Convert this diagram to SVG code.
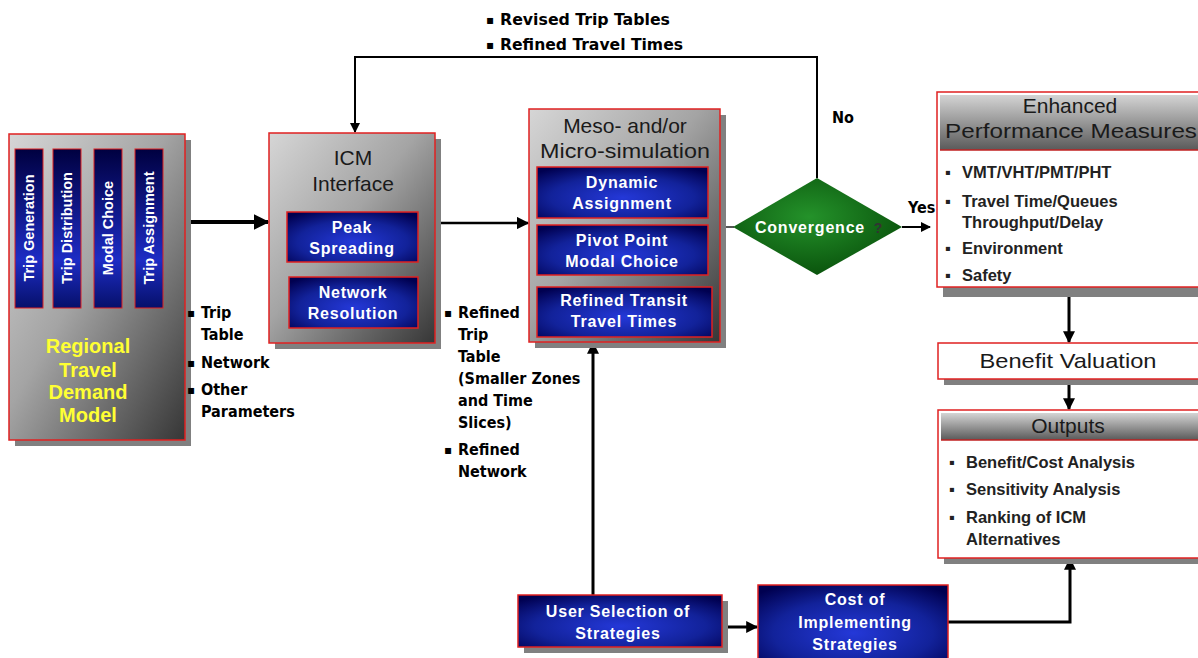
<svg xmlns="http://www.w3.org/2000/svg" width="1198" height="658" viewBox="0 0 1198 658">
<defs>
<linearGradient id="gray" x1="0" y1="0" x2="1" y2="1">
<stop offset="0" stop-color="#d6d6d6"/><stop offset="0.45" stop-color="#a4a4a4"/><stop offset="1" stop-color="#363636"/>
</linearGradient>
<radialGradient id="blue" cx="0.5" cy="0.6" r="0.7">
<stop offset="0" stop-color="#2438d8"/><stop offset="0.6" stop-color="#12229a"/><stop offset="1" stop-color="#000050"/>
</radialGradient>
<linearGradient id="bar" x1="0" y1="0" x2="0" y2="1">
<stop offset="0" stop-color="#000040"/><stop offset="0.7" stop-color="#1d2cc4"/><stop offset="1" stop-color="#06106a"/>
</linearGradient>
<linearGradient id="hdr" x1="0" y1="0" x2="0" y2="1">
<stop offset="0" stop-color="#d4d4d4"/><stop offset="1" stop-color="#5a5a5a"/>
</linearGradient>
<radialGradient id="green" cx="0.45" cy="0.4" r="0.7">
<stop offset="0" stop-color="#24922a"/><stop offset="1" stop-color="#064a08"/>
</radialGradient>
<marker id="ah" viewBox="0 0 10 10" refX="9" refY="5" markerWidth="4" markerHeight="4" orient="auto" markerUnits="strokeWidth">
<path d="M0,0 L10,5 L0,10 z" fill="#000"/>
</marker>
<marker id="ah2" viewBox="0 0 10 10" refX="9" refY="5" markerWidth="5" markerHeight="5" orient="auto" markerUnits="strokeWidth">
<path d="M0,0 L10,5 L0,10 z" fill="#000"/>
</marker>
</defs>
<style>
.shadow{fill:#808080}
.gbox{fill:url(#gray);stroke:#e02020;stroke-width:1.5}
.bbox{fill:url(#blue);stroke:#e02020;stroke-width:1.5}
.wbox{fill:#fff;stroke:#e02020;stroke-width:1.5}
.hdr{fill:url(#hdr)}
.wt{font-family:"Liberation Sans",Arial,sans-serif;font-weight:bold;fill:#fff;font-size:16px;text-anchor:middle;letter-spacing:0.8px}
.bar{font-family:"Liberation Sans",Arial,sans-serif;font-weight:bold;fill:#fff;font-size:14.5px;text-anchor:middle}
.title{font-family:"Liberation Sans",Arial,sans-serif;fill:#1a1a1a;font-size:21px;text-anchor:middle}
.yel{font-family:"Liberation Sans",Arial,sans-serif;font-weight:bold;fill:#ffff33;font-size:20px;text-anchor:middle}
.cond{font-family:"DejaVu Sans Condensed","DejaVu Sans",sans-serif;font-stretch:condensed;font-weight:bold;fill:#000;font-size:16px}
.dot{font-family:"DejaVu Sans",sans-serif;fill:#000;font-size:12px}
.bul{font-family:"Liberation Sans",Arial,sans-serif;font-weight:bold;fill:#222;font-size:16.5px}
.line{fill:none;stroke:#000}
</style>

<g id="connectors">
<line class="line" x1="187" y1="222" x2="268" y2="222" stroke-width="4" marker-end="url(#ah)"/>
<line class="line" x1="435" y1="223" x2="528" y2="223" stroke-width="2.5" marker-end="url(#ah2)"/>
<line x1="720" y1="227" x2="734" y2="227" stroke="#555" stroke-width="2"/>
<line class="line" x1="902" y1="227" x2="930" y2="227" stroke-width="2" marker-end="url(#ah2)"/>
<polyline class="line" points="817,178 817,57 355,57 355,132" stroke-width="2" marker-end="url(#ah2)"/>
<line class="line" x1="1069" y1="297" x2="1069" y2="342" stroke-width="3" marker-end="url(#ah)"/>
<line class="line" x1="1069" y1="380" x2="1069" y2="409" stroke-width="3" marker-end="url(#ah)"/>
<line class="line" x1="593" y1="595" x2="593" y2="343" stroke-width="3" marker-end="url(#ah)"/>
<line class="line" x1="722" y1="627" x2="757" y2="627" stroke-width="3" marker-end="url(#ah)"/>
<polyline class="line" points="948,622 1070,622 1070,559" stroke-width="3" marker-end="url(#ah)"/>
</g>

<g id="regional-model">
<rect class="shadow" x="15" y="140" width="176" height="306"/>
<rect class="gbox" x="9" y="134" width="176" height="306"/>
<rect x="15" y="149" width="28" height="159" fill="url(#bar)" stroke="#e02020" stroke-width="1"/>
<rect x="53" y="149" width="28" height="159" fill="url(#bar)" stroke="#e02020" stroke-width="1"/>
<rect x="94" y="149" width="28" height="159" fill="url(#bar)" stroke="#e02020" stroke-width="1"/>
<rect x="135" y="149" width="28" height="159" fill="url(#bar)" stroke="#e02020" stroke-width="1"/>
<text class="bar" transform="translate(34,228) rotate(-90)">Trip Generation</text>
<text class="bar" transform="translate(72,228) rotate(-90)">Trip Distribution</text>
<text class="bar" transform="translate(113,228) rotate(-90)">Modal Choice</text>
<text class="bar" transform="translate(154,228) rotate(-90)">Trip Assignment</text>
<text class="yel" x="88" y="353">Regional</text>
<text class="yel" x="88" y="377">Travel</text>
<text class="yel" x="88" y="399">Demand</text>
<text class="yel" x="88" y="422">Model</text>
</g>

<g id="icm-interface">
<rect class="shadow" x="275" y="139" width="166" height="210"/>
<rect class="gbox" x="269" y="133" width="166" height="210"/>
<text class="title" x="353" y="165" font-size="22">ICM</text>
<text class="title" x="353" y="191" font-size="22">Interface</text>
<rect class="bbox" x="287" y="212" width="131" height="50"/>
<text class="wt" x="352" y="233">Peak</text>
<text class="wt" x="352" y="254">Spreading</text>
<rect class="bbox" x="289" y="277" width="129" height="51"/>
<text class="wt" x="353" y="298">Network</text>
<text class="wt" x="353" y="319">Resolution</text>
</g>

<g id="simulation">
<rect class="shadow" x="535" y="115" width="191" height="233"/>
<rect class="gbox" x="529" y="109" width="191" height="233"/>
<text class="title" x="625" y="133" font-size="22">Meso- and/or</text>
<text class="title" x="625" y="158" font-size="22" textLength="170" lengthAdjust="spacingAndGlyphs">Micro-simulation</text>
<rect class="bbox" x="537" y="167" width="171" height="51"/>
<text class="wt" x="622" y="188">Dynamic</text>
<text class="wt" x="622" y="209">Assignment</text>
<rect class="bbox" x="537" y="225" width="171" height="50"/>
<text class="wt" x="622" y="246">Pivot Point</text>
<text class="wt" x="622" y="267">Modal Choice</text>
<rect class="bbox" x="537" y="287" width="175" height="50"/>
<text class="wt" x="624" y="306">Refined Transit</text>
<text class="wt" x="624" y="327">Travel Times</text>
</g>

<g id="convergence">
<polygon points="817,178 902,227 817,275 733,227" fill="url(#green)"/>
<text class="wt" x="810" y="233" font-size="15" letter-spacing="0.5">Convergence</text>
<text x="878" y="233" font-family="Liberation Sans,Arial,sans-serif" font-size="14" font-weight="bold" fill="#333" text-anchor="middle">?</text>
</g>

<g id="performance-measures">
<rect class="shadow" x="943" y="98" width="270" height="199"/>
<rect class="wbox" x="937" y="92" width="270" height="195"/>
<rect class="hdr" x="940" y="95" width="266" height="55"/>
<line x1="940" y1="150" x2="1206" y2="150" stroke="#c02020" stroke-width="1.5"/>
<text class="title" x="1070" y="113">Enhanced</text>
<text class="title" x="1071" y="138" textLength="252" lengthAdjust="spacingAndGlyphs">Performance Measures</text>
<text class="bul" x="945" y="178">▪</text><text class="bul" x="962" y="178">VMT/VHT/PMT/PHT</text>
<text class="bul" x="945" y="207">▪</text><text class="bul" x="962" y="207">Travel Time/Queues</text>
<text class="bul" x="962" y="228">Throughput/Delay</text>
<text class="bul" x="945" y="254">▪</text><text class="bul" x="962" y="254">Environment</text>
<text class="bul" x="945" y="281">▪</text><text class="bul" x="962" y="281">Safety</text>
</g>

<g id="benefit-valuation">
<rect class="shadow" x="944" y="349" width="270" height="36"/>
<rect class="wbox" x="938" y="343" width="270" height="36"/>
<text class="title" x="1068" y="368" textLength="177" lengthAdjust="spacingAndGlyphs">Benefit Valuation</text>
</g>

<g id="outputs">
<rect class="shadow" x="944" y="416" width="270" height="148"/>
<rect class="wbox" x="938" y="410" width="270" height="148"/>
<rect class="hdr" x="941" y="413" width="266" height="27"/>
<line x1="941" y1="440" x2="1206" y2="440" stroke="#c02020" stroke-width="1.5"/>
<text class="title" x="1068" y="433">Outputs</text>
<text class="bul" x="949" y="468">▪</text><text class="bul" x="966" y="468">Benefit/Cost Analysis</text>
<text class="bul" x="949" y="495">▪</text><text class="bul" x="966" y="495">Sensitivity Analysis</text>
<text class="bul" x="949" y="523">▪</text><text class="bul" x="966" y="523">Ranking of ICM</text>
<text class="bul" x="966" y="545">Alternatives</text>
</g>

<g id="user-selection">
<rect class="shadow" x="524" y="601" width="204" height="52"/>
<rect class="bbox" x="518" y="595" width="204" height="52"/>
<text class="wt" x="618" y="617">User Selection of</text>
<text class="wt" x="618" y="639">Strategies</text>
</g>

<g id="cost">
<rect class="bbox" x="758" y="585" width="190" height="80"/>
<text class="wt" x="855" y="605">Cost of</text>
<text class="wt" x="855" y="628">Implementing</text>
<text class="wt" x="855" y="650">Strategies</text>
</g>

<g id="labels">
<text class="cond" x="908" y="213">Yes</text>
<text class="cond" x="832" y="123">No</text>
<text class="dot" x="486" y="24">▪</text>
<text class="cond" x="500" y="25" textLength="170" lengthAdjust="spacingAndGlyphs">Revised Trip Tables</text>
<text class="dot" x="486" y="49">▪</text>
<text class="cond" x="500" y="50" textLength="183" lengthAdjust="spacingAndGlyphs">Refined Travel Times</text>
<text class="dot" x="187" y="317">▪</text>
<text class="cond" x="201" y="318">Trip</text>
<text class="cond" x="201" y="340">Table</text>
<text class="dot" x="187" y="367">▪</text>
<text class="cond" x="201" y="368">Network</text>
<text class="dot" x="187" y="394">▪</text>
<text class="cond" x="201" y="395">Other</text>
<text class="cond" x="201" y="417">Parameters</text>
<text class="dot" x="444" y="317">▪</text>
<text class="cond" x="458" y="318">Refined</text>
<text class="cond" x="458" y="340">Trip</text>
<text class="cond" x="458" y="362">Table</text>
<text class="cond" x="458" y="384">(Smaller Zones</text>
<text class="cond" x="458" y="406">and Time</text>
<text class="cond" x="458" y="428">Slices)</text>
<text class="dot" x="444" y="454">▪</text>
<text class="cond" x="458" y="455">Refined</text>
<text class="cond" x="458" y="477">Network</text>
</g>
</svg>
